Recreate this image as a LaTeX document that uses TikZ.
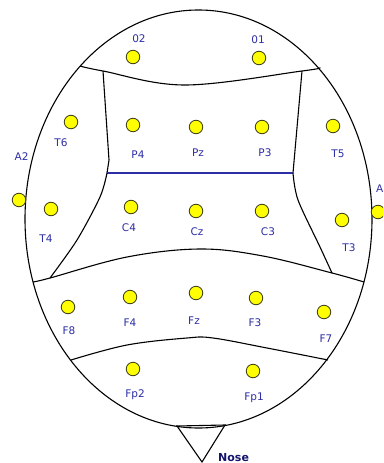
\documentclass[tikz,border=0pt]{standalone}
\usepackage{fontspec}
\setmainfont{DejaVu Sans}
\definecolor{lblblue}{RGB}{45,45,165}
\definecolor{noseblue}{RGB}{20,20,110}
\definecolor{elecyel}{RGB}{255,255,0}
\definecolor{elecline}{RGB}{60,60,20}
\begin{document}
\begin{tikzpicture}[x=1pt,y=-1pt,
  elec/.style={circle,draw=elecline,fill=elecyel,line width=0.8pt,minimum size=13.5pt,inner sep=0pt},
  lbl/.style={text=lblblue,font=\fontsize{10.5}{12}\selectfont,anchor=base,inner sep=0pt},
  headline/.style={line width=1.1pt,black},
  ]
\useasboundingbox (0,0) rectangle (383,463);
\clip (0,0) rectangle (383,463);
\fill[white] (0,0) rectangle (383,463);
% head outline
\draw[headline] (198.5,219) ellipse [x radius=173.5, y radius=209];
% nose
\draw[headline] (177,426) -- (225,425) -- (202,462) -- cycle;
% inner dividing lines
\draw[headline] plot[smooth,tension=0.6] coordinates {(80,66) (103,71) (185,85) (302,71) (319,68)};
\draw[headline] (103,71) -- (109,160) -- (107,173);
\draw[headline] (302,71) -- (293,173);
\draw[line width=1.1pt,lblblue] (107,173) -- (293,173);
\draw[headline] plot[smooth,tension=0.5] coordinates {(107,173) (100,197) (77,240) (50,278)};
\draw[headline] plot[smooth,tension=0.5] coordinates {(293,173) (298,200) (320,247) (332,273)};
\draw[headline] plot[smooth,tension=0.6] coordinates {(33,282) (50,278) (127,257) (200,249) (263,256) (332,273) (364,282)};
\draw[headline] plot[smooth,tension=0.6] coordinates {(71,360) (127,345) (187,338) (213,338) (267,348) (328,360)};
% electrodes
\node[elec] (eO2) at (133,57) {};
\node[elec] (eO1) at (259,58) {};
\node[elec] (eT6) at (71,122) {};
\node[elec] (eP4) at (133,125) {};
\node[elec] (ePz) at (196,127) {};
\node[elec] (eP3) at (262,127) {};
\node[elec] (eT5) at (333,126) {};
\node[elec] (eA2) at (19,200) {};
\node[elec] (eA1) at (378,212) {};
\node[elec] (eT4) at (51,209) {};
\node[elec] (eC4) at (131,207) {};
\node[elec] (eCz) at (196,211) {};
\node[elec] (eC3) at (262,211) {};
\node[elec] (eT3) at (342,220) {};
\node[elec] (eF8) at (68,307) {};
\node[elec] (eF4) at (130,297) {};
\node[elec] (eFz) at (196,293) {};
\node[elec] (eF3) at (256,298) {};
\node[elec] (eF7) at (324,312) {};
\node[elec] (eFp2) at (133,369) {};
\node[elec] (eFp1) at (253,371) {};
% labels
\node[lbl] (lO2) at (139,42) {02};
\node[lbl] (lO1) at (258,43) {01};
\node[lbl] (lT6) at (61,146) {T6};
\node[lbl] (lP4) at (138,158) {P4};
\node[lbl] (lPz) at (198,156) {Pz};
\node[lbl] (lP3) at (265,156) {P3};
\node[lbl] (lT5) at (338,157) {T5};
\node[lbl] (lA2) at (21.5,160) {A2};
\node[lbl,anchor=base west] (lA1) at (376,192) {A1};
\node[lbl] (lT4) at (46,242) {T4};
\node[lbl] (lC4) at (129,231) {C4};
\node[lbl] (lCz) at (197,235) {Cz};
\node[lbl] (lC3) at (268,235) {C3};
\node[lbl] (lT3) at (349,251) {T3};
\node[lbl] (lF8) at (69,334) {F8};
\node[lbl] (lF4) at (130,326) {F4};
\node[lbl] (lFz) at (194,324) {Fz};
\node[lbl] (lF3) at (255,326) {F3};
\node[lbl] (lF7) at (326,342) {F7};
\node[lbl] (lFp2) at (135,397) {Fp2};
\node[lbl] (lFp1) at (254,400) {Fp1};
\node[lbl,anchor=base west,text=noseblue,font=\bfseries\fontsize{11}{13}\selectfont] (lNose) at (218,461) {Nose};
\end{tikzpicture}
\end{document}
